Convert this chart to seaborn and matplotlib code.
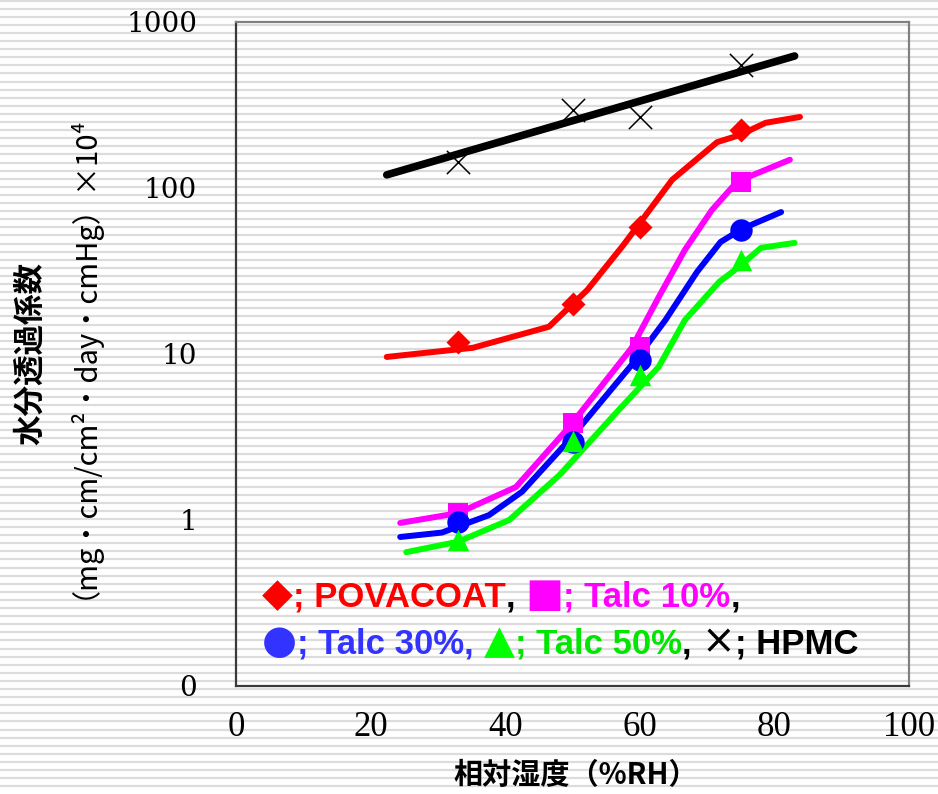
import numpy as np
import matplotlib
matplotlib.use("Agg")
import matplotlib.pyplot as plt
from matplotlib.lines import Line2D
from matplotlib.offsetbox import TextArea, HPacker, VPacker, AnchoredOffsetbox
from matplotlib.ticker import FixedLocator, FixedFormatter, NullLocator
import seaborn as sns

# ---------------- data ----------------
rh_points = [33, 50, 60, 75]
povacoat_points = [11.8, 20, 58, 223]
talc10_points = [1.1, 3.84, 11.0, 108]
talc30_points = [0.97, 2.95, 9.2, 56]
talc50_points = [0.76, 3.0, 7.5, 36.8]
hpmc_points = [144, 295, 268, 551]

povacoat_curve_rh = [22.4, 35.2, 46.5, 52.2, 57.5, 64.8, 71.5, 74.8, 78.7, 83.8]
povacoat_curve = [9.6, 10.9, 14.6, 24.3, 45, 112, 189, 208, 247, 268]

talc10_curve_rh = [24.4, 33, 41.6, 49.5, 58.8, 62.8, 66.7, 70.7, 74, 76, 82.3]
talc10_curve = [0.96, 1.1, 1.58, 3.63, 10.9, 22, 42.4, 73.6, 104, 116, 148]

talc30_curve_rh = [24.4, 30.6, 37.6, 42.5, 49.5, 59.4, 63.8, 68.5, 72, 75.3, 81]
talc30_curve = [0.79, 0.84, 1.07, 1.48, 3.03, 9.2, 16, 31.2, 47.3, 57, 71.6]

talc50_curve_rh = [25.3, 33, 40.6, 48.1, 56.2, 62.8, 66.7, 71.8, 74.7, 78, 83]
talc50_curve = [0.64, 0.74, 1.0, 1.87, 4.3, 8.36, 16, 27.2, 33.4, 43.6, 46.7]

hpmc_curve_rh = [22.4, 83]
hpmc_curve = [120, 624]

y_ticks = [0.1, 1, 10, 100, 1000]
y_tick_labels = ["0", "1", "10", "100", "1000"]
x_ticks = [0, 20, 40, 60, 80, 100]
x_tick_labels = ["0", "20", "40", "60", "80", "100"]

x_label = "相対湿度（%RH）"
y_label_1 = "水分透過係数"
y_label_2 = "（mg・cm/cm²・day・cmHg）×10⁴"

RED, MAGENTA, BLUE, GREEN, BLACK = "#ff0000", "#ff00ff", "#0000ff", "#00ff00", "#000000"

# ---------------- style ----------------
sns.set_style("white")
CJK = ["Noto Sans CJK JP", "DejaVu Sans"]
LEG = ["Liberation Sans", "DejaVu Sans"]
SYM = ["DejaVu Sans"]
plt.rcParams["font.family"] = ["DejaVu Sans"]

fig = plt.figure(figsize=(9.38, 7.94), dpi=100)
fig.patch.set_facecolor("white")

# striped background
for yy in np.arange(0.5, 794, 8.1):
    fig.add_artist(Line2D([0, 1], [1 - yy / 794, 1 - yy / 794], transform=fig.transFigure,
                          color="#dcdcdc", lw=1.6, zorder=-10))

ax = fig.add_axes([236 / 938, (794 - 686) / 794, 673 / 938, 664 / 794])
ax.set_facecolor("none")
ax.set_yscale("log")

curves = [
    (povacoat_curve_rh, povacoat_curve, RED, 4.3),
    (talc10_curve_rh, talc10_curve, MAGENTA, 4.3),
    (talc30_curve_rh, talc30_curve, BLUE, 4.3),
    (talc50_curve_rh, talc50_curve, GREEN, 4.3),
    (hpmc_curve_rh, hpmc_curve, BLACK, 5.5),
]
for xs, ys, c, lw in curves:
    sns.lineplot(x=xs, y=ys, color=c, lw=lw, ax=ax, estimator=None, sort=False, zorder=2)

points = [
    (povacoat_points, RED, "D", 150, 0),
    (talc10_points, MAGENTA, "s", 190, 0),
    (talc30_points, BLUE, "o", 260, 0),
    (talc50_points, GREEN, "^", 240, 0),
]
for ys, c, m, s, lw in points:
    sns.scatterplot(x=rh_points, y=ys, color=c, marker=m, s=s, linewidth=lw, ax=ax, zorder=3)
sns.scatterplot(x=rh_points, y=hpmc_points, color=BLACK, marker="x", s=280, linewidth=1.1,
                ax=ax, zorder=3)

ax.set_xlim(0, 100)
ax.set_ylim(0.1, 1000)
ax.yaxis.set_major_locator(FixedLocator(y_ticks))
ax.yaxis.set_major_formatter(FixedFormatter(y_tick_labels))
ax.yaxis.set_minor_locator(NullLocator())
ax.xaxis.set_major_locator(FixedLocator(x_ticks))
ax.xaxis.set_major_formatter(FixedFormatter(x_tick_labels))

ax.tick_params(axis="y", direction="in", length=6, width=1.2, color="#333333", pad=28,
               labelsize=20, labelcolor="black")
ax.tick_params(axis="x", direction="in", length=7, width=1.2, color="#333333", pad=18,
               labelsize=25, labelcolor="black")
for lab in ax.get_yticklabels():
    lab.set_family("DejaVu Serif")
for lab in ax.get_xticklabels():
    lab.set_family("Liberation Serif")

for side in ["left", "bottom"]:
    ax.spines[side].set_color("#3a3a3a")
    ax.spines[side].set_linewidth(1.6)
for side in ["top", "right"]:
    ax.spines[side].set_visible(True)
    ax.spines[side].set_color("#808080")
    ax.spines[side].set_linewidth(1.6)

ax.set_xlabel(x_label, fontsize=21, fontweight="bold", family=CJK, va="center", color="black")
ax.xaxis.set_label_coords(0.505, (686 - 775) / 664)
ax.set_ylabel("")

fig.text(30 / 938, 1 - 353 / 794, y_label_1, rotation=90, ha="center", va="center",
         fontsize=22, fontweight="bold", family=CJK, color="black")
fig.text(68 / 938, 1 - 350 / 794, y_label_2, rotation=90, ha="center", va="center",
         fontsize=21, family=CJK, color="black")

# ---------------- in-plot legend text ----------------
def ta(s, color, sym=False):
    if sym:
        props = dict(color=color, fontsize=29, family=SYM)
    else:
        props = dict(color=color, fontsize=25, family=LEG, fontweight="bold")
    return TextArea(s, textprops=props)

row1 = HPacker(children=[ta("◆", RED, True), ta("; POVACOAT", RED), ta(", ", BLACK),
                         ta("■", MAGENTA, True), ta("; Talc 10%", MAGENTA), ta(",", BLACK)],
               align="baseline", pad=0, sep=0)
row2 = HPacker(children=[ta("●", "#3333ff", True), ta("; Talc 30%, ", "#3333ff"),
                         ta("▲", GREEN, True), ta("; Talc 50%", "#00e600"), ta(", ", BLACK),
                         ta("×", BLACK, True), ta("; HPMC", BLACK)],
               align="baseline", pad=0, sep=0)
box = VPacker(children=[row1, row2], align="left", pad=0, sep=5)
anch = AnchoredOffsetbox(loc="upper left", child=box, bbox_to_anchor=(0.039, 0.167),
                         bbox_transform=ax.transAxes, frameon=False, borderpad=0, pad=0)
ax.add_artist(anch)

fig.savefig("out.png", dpi=100, facecolor=fig.get_facecolor())
